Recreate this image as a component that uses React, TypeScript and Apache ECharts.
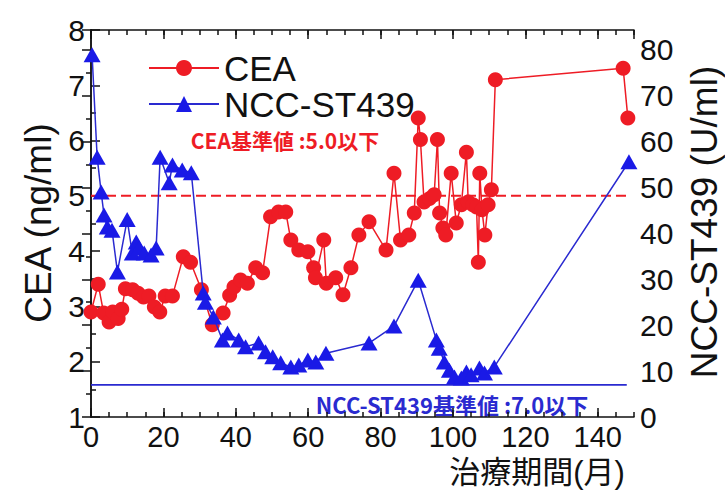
import React, { useEffect, useRef } from 'react';
import * as echarts from 'echarts';

// CEA (ng/ml) over treatment months
const ceaMonths = [0, 2, 3.5, 5, 6, 7.5, 8.5, 9.5, 11.5, 13, 14.5, 16, 17.5, 19, 20.5, 22.5, 25.5, 27.5, 30.5, 33.5, 36.5, 38.3, 39.5, 41.3, 43.2, 45.5, 47.4, 49.6, 51.8, 53.8, 55.2, 57.4, 59.9, 61.5, 62, 64.3, 65, 67.6, 69.6, 71.8, 74, 76.8, 81.5, 83.7, 85.5, 87.8, 89.3, 90.4, 91, 92, 93.5, 94.8, 95.7, 96.3, 97.2, 98, 99.5, 100.9, 102.3, 103.7, 104.2, 105.5, 106.5, 107, 107.4, 108, 108.8, 109.7, 110.6, 111.7, 147, 148.3];
const ceaValues = [2.9, 3.4, 2.88, 2.72, 2.9, 2.78, 2.95, 3.32, 3.3, 3.24, 3.17, 3.19, 2.99, 2.9, 3.19, 3.19, 3.9, 3.8, 3.3, 2.67, 2.88, 3.2, 3.35, 3.48, 3.42, 3.7, 3.61, 4.62, 4.71, 4.71, 4.2, 4.02, 3.99, 3.7, 3.52, 4.2, 3.42, 3.52, 3.21, 3.7, 4.29, 4.53, 4.02, 5.41, 4.2, 4.29, 4.69, 6.41, 6.02, 4.89, 4.95, 5.02, 6.02, 4.69, 4.42, 4.29, 5.41, 4.51, 4.84, 5.79, 4.89, 4.84, 4.8, 3.8, 5.41, 4.75, 4.29, 4.84, 5.11, 7.1, 7.31, 6.41];

// NCC-ST439 (U/ml) over treatment months
const nccMonths = [0.3, 1.7, 2.8, 3.6, 4.5, 5.8, 7.3, 10, 11.4, 12.5, 13.3, 14.7, 16.6, 18, 19.1, 21.6, 22.5, 25.2, 27.7, 31, 31.6, 33.8, 36.3, 37.7, 40.8, 42.7, 46.3, 48.2, 50.2, 52.4, 55.2, 57.4, 59.9, 62.1, 64.9, 76.8, 83.7, 90.4, 95.4, 96.2, 97.6, 99, 100.4, 102.3, 103.7, 105, 107.3, 108.7, 111.4, 148.6];
const nccValues = [78.9, 56.6, 49, 44, 41.4, 40.7, 31.6, 43, 35.7, 38.1, 36.8, 35.7, 35.3, 36.8, 56.6, 51, 54.9, 53.8, 53.2, 27, 25, 21.8, 16.8, 18.3, 16.8, 15.3, 16.1, 14.2, 13.1, 11.8, 10.9, 11.3, 12.4, 12, 13.9, 16.1, 19.8, 29.8, 16.8, 15, 12, 10.2, 8.7, 8.5, 9.8, 9.2, 10.7, 9.6, 10.9, 55.6];

const ceaLimit = 5.0;
const nccLimit = 7.0;
const limitMonths = [0, 148];

const seriesNames = ['CEA', 'NCC-ST439'];
const ceaLimitText = 'CEA基準値 :5.0以下';
const nccLimitText = 'NCC-ST439基準値 :7.0以下';
const xName = '治療期間(月)';
const yLeftName = 'CEA (ng/ml)';
const yRightName = 'NCC-ST439 (U/ml)';

export default function App() {
  const ref = useRef<HTMLDivElement>(null);
  useEffect(() => {
    document.body.style.margin = '0';
    const chart = echarts.init(ref.current!, null, { renderer: 'svg' });
    const font = '"Liberation Sans", Arial, sans-serif';
    const cjk = '"Noto Sans CJK JP", sans-serif';
    const mixed = '"Liberation Sans", "Noto Sans CJK JP", sans-serif';
    const black = '#111';
    const lineStyle = { color: black, width: 1.5 };
    const red = '#ee1c25';
    const blue = '#1a1ae6';
    const blueLine = '#2a2ad0';

    const majorX = (position: string) => ({
      type: 'value', min: 0, max: 150, interval: 20, position,
      axisLine: { show: true, lineStyle },
      axisTick: { show: true, inside: true, length: 9, lineStyle },
      axisLabel: position === 'bottom'
        ? { show: true, fontSize: 29, margin: 5, color: black, fontFamily: font, lineHeight: 29, showMaxLabel: false }
        : { show: false },
      splitLine: { show: false },
    });
    const minorX = (position: string) => ({
      type: 'value', min: 0, max: 150, interval: 5, position,
      axisLine: { show: false },
      axisTick: { show: true, inside: true, length: 5, lineStyle },
      axisLabel: { show: false },
      splitLine: { show: false },
    });

    chart.setOption({
      animation: false,
      backgroundColor: '#fff',
      grid: { left: 91, right: 91, top: 30, bottom: 73 },
      xAxis: [majorX('bottom'), minorX('bottom'), majorX('top'), minorX('top')],
      yAxis: [
        {
          type: 'value', min: 1, max: 8, interval: 1, position: 'left',
          axisLine: { show: true, lineStyle },
          axisTick: { show: true, inside: true, length: 9, lineStyle },
          minorTick: { show: true, splitNumber: 2, length: 5, lineStyle },
          axisLabel: { fontSize: 30, margin: 6, color: black, fontFamily: font },
          splitLine: { show: false },
        },
        {
          type: 'value', min: 0, max: 84.3, interval: 10, position: 'right',
          axisLine: { show: true, lineStyle },
          axisTick: { show: true, inside: true, length: 9, lineStyle },
          minorTick: { show: true, splitNumber: 2, length: 5, lineStyle },
          axisLabel: { fontSize: 30, margin: 6, color: black, fontFamily: font, showMaxLabel: false },
          splitLine: { show: false },
        },
      ],
      legend: {
        data: seriesNames,
        orient: 'vertical',
        left: 143,
        top: 45,
        itemWidth: 70,
        itemHeight: 20,
        itemGap: 0,
        textStyle: { fontSize: 35, fontFamily: font, color: black, lineHeight: 36 },
      },
      series: [
        {
          name: 'CEA limit', type: 'line', xAxisIndex: 0, yAxisIndex: 0, silent: true,
          symbol: 'none', data: limitMonths.map((m) => [m, ceaLimit]),
          lineStyle: { color: red, width: 2, type: [10, 5] }, z: 1,
        },
        {
          name: 'NCC limit', type: 'line', xAxisIndex: 0, yAxisIndex: 1, silent: true,
          symbol: 'none', data: limitMonths.map((m) => [m, nccLimit]),
          lineStyle: { color: blueLine, width: 1.8 }, z: 1,
        },
        {
          name: seriesNames[0], type: 'line', xAxisIndex: 0, yAxisIndex: 0,
          data: ceaMonths.map((m, i) => [m, ceaValues[i]]),
          symbol: 'circle', symbolSize: 15,
          itemStyle: { color: red },
          lineStyle: { color: red, width: 1.5 },
          z: 2,
        },
        {
          name: seriesNames[1], type: 'line', xAxisIndex: 0, yAxisIndex: 1,
          data: nccMonths.map((m, i) => [m, nccValues[i]]),
          symbol: 'triangle', symbolSize: [17, 15],
          itemStyle: { color: blue },
          lineStyle: { color: blueLine, width: 1.5 },
          z: 3,
        },
      ],
      graphic: [
        {
          type: 'text', x: 38, y: 223, rotation: Math.PI / 2,
          style: { text: yLeftName, fontSize: 37, fontFamily: font, fill: black, align: 'center', verticalAlign: 'middle' },
        },
        {
          type: 'text', x: 704, y: 222, rotation: Math.PI / 2,
          style: { text: yRightName, fontSize: 37, fontFamily: font, fill: black, align: 'center', verticalAlign: 'middle' },
        },
        {
          type: 'text', x: 537, y: 472,
          style: { text: xName, fontSize: 31, lineHeight: 31, fontFamily: mixed, fill: black, align: 'center', verticalAlign: 'middle' },
        },
        {
          type: 'text', x: 285, y: 140,
          style: { text: ceaLimitText, fontSize: 21, fontWeight: 'bold', fontFamily: cjk, fill: red, align: 'center', verticalAlign: 'middle' },
        },
        {
          type: 'text', x: 452, y: 404,
          style: { text: nccLimitText, fontSize: 22, fontWeight: 'bold', fontFamily: cjk, fill: '#2a2ad0', align: 'center', verticalAlign: 'middle' },
        },
      ],
    });
    return () => chart.dispose();
  }, []);
  return <div ref={ref} style={{ width: 725, height: 490 }} />;
}
